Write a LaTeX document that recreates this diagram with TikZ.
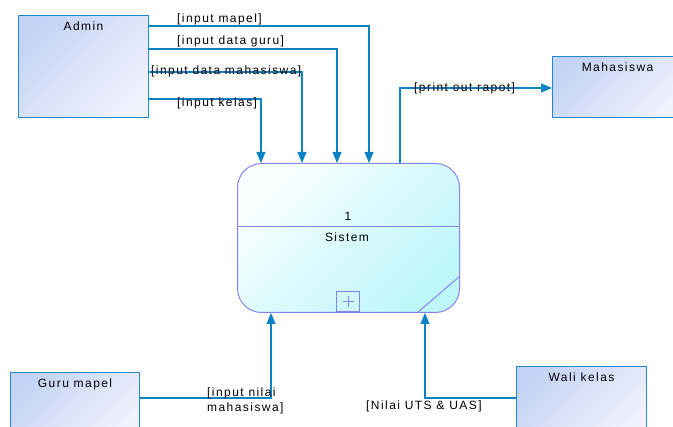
\documentclass[tikz,border=0pt]{standalone}
\usepackage{fontspec}
\setmainfont{Liberation Sans}[LetterSpace=12]
\usetikzlibrary{arrows.meta}

\definecolor{entityedge}{HTML}{2088CC}
\definecolor{flowline}{HTML}{0A82C4}
\definecolor{entityA}{HTML}{C4D4F4}
\definecolor{entityB}{HTML}{F0F2FD}
\definecolor{procedge}{HTML}{8484EE}
\definecolor{procA}{HTML}{F8FEFF}
\definecolor{procB}{HTML}{BEF6FA}

\begin{document}
\begin{tikzpicture}[x=1pt, y=-1pt,
  font=\fontsize{12}{13}\selectfont,
  entity/.style={draw=entityedge, line width=1.1pt, top color=entityA,
    bottom color=entityB, shading angle=45, inner sep=0pt,
    anchor=north west, text height=15pt, align=center},
  process/.style={draw=procedge, line width=1pt, top color=procA,
    bottom color=procB, shading angle=45, rounded corners=24pt,
    inner sep=0pt, anchor=north west, minimum width=222pt,
    minimum height=149pt},
  flow/.style={draw=flowline, line width=1.2pt,
    -{Triangle[length=11pt,width=9pt]}},
  lbl/.style={inner sep=0pt, anchor=base west},
  ctr/.style={inner sep=0pt, anchor=base}]

\useasboundingbox (0,0) rectangle (673,427);
\clip (0,0) rectangle (673,427);

% external entities
\node[entity, minimum width=130pt, text depth=87pt] (admin) at (18,15) {Admin};
\node[entity, minimum width=130pt, text depth=46pt] (mhs) at (552,56) {Mahasiswa};
\node[entity, minimum width=129pt, text depth=50pt] (guru) at (10,372) {Guru mapel};
\node[entity, minimum width=130pt, text depth=55pt] (wali) at (516,366) {Wali kelas};

% process
\node[process] (sys) at (237,163) {};
\draw[procedge, line width=1pt] (sys.west |- 0,227) -- (sys.east |- 0,227);
\node[ctr] (pid) at (348,221) {1};
\node[ctr] (pname) at (347,242) {Sistem};
\node[draw=procedge, line width=1pt, inner sep=0pt, minimum width=23pt,
  minimum height=20pt, anchor=south west] (sub) at (336,312) {};
\draw[procedge, line width=0.8pt] ([xshift=-5.5pt]sub.center) -- ([xshift=5.5pt]sub.center)
  ([yshift=-5.5pt]sub.center) -- ([yshift=5.5pt]sub.center);
\draw[procedge, line width=1pt] ([xshift=180pt]sys.south west) -- ([yshift=37pt]sys.south east);

% data flows from Admin
\draw[flow] ([yshift=-11pt]admin.north east) -| ([xshift=132pt]sys.north west);
\draw[flow] ([yshift=-34pt]admin.north east) -| ([xshift=100pt]sys.north west);
\draw[flow] ([yshift=-57pt]admin.north east) -| ([xshift=65pt]sys.north west);
\draw[flow] ([yshift=-84pt]admin.north east) -| ([xshift=24pt]sys.north west);

% output flow
\draw[flow] ([xshift=163pt]sys.north west) |- ([yshift=-32pt]mhs.north west);

% flows into the process from below
\draw[flow] ([yshift=-26pt]guru.north east) -| ([xshift=34pt]sys.south west);
\draw[flow] ([yshift=-32pt]wali.north west) -| ([xshift=188pt]sys.south west);

% flow labels
\node[lbl] (l1) at (177,23) {[input mapel]};
\node[lbl] (l2) at (177,45) {[input data guru]};
\node[lbl] (l3) at (151,75) {[input data mahasiswa]};
\node[lbl] (l4) at (177,107) {[input kelas]};
\node[lbl] (l5) at (414,92) {[print out rapot]};
\node[lbl] (l6) at (207,397) {[input nilai};
\node[lbl] (l7) at (207,412) {mahasiswa]};
\node[lbl] (l8) at (366,410) {[Nilai UTS \& UAS]};

\end{tikzpicture}
\end{document}
